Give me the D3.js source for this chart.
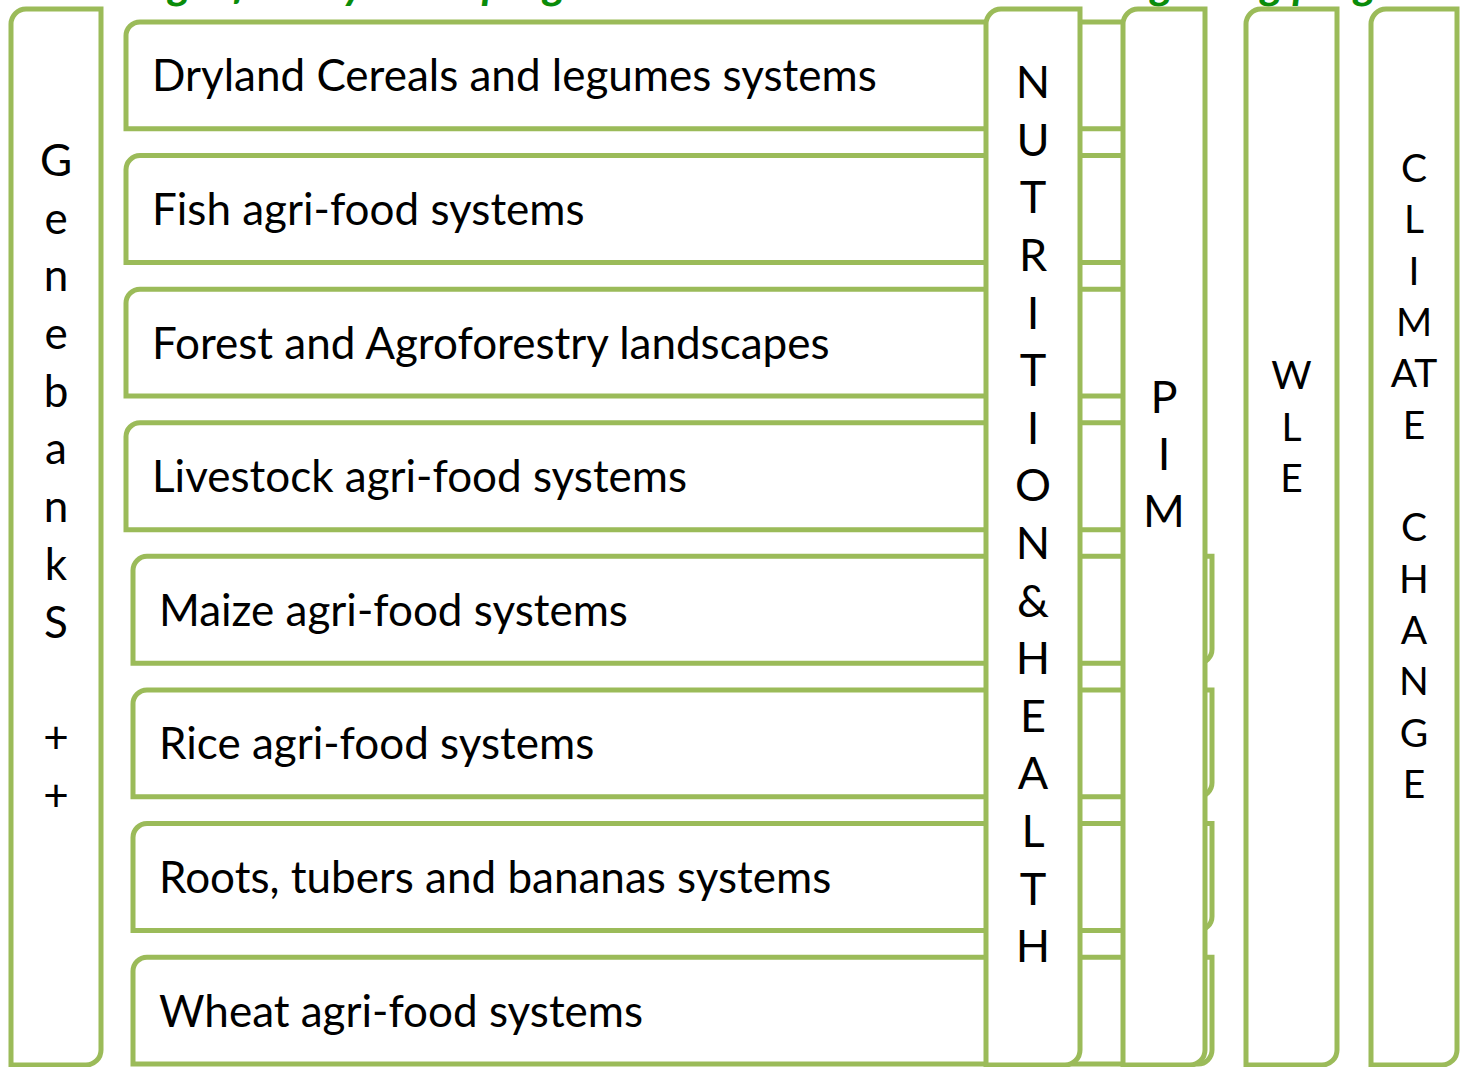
<!DOCTYPE html>
<html>
<head>
<meta charset="utf-8">
<script src="https://cdn.jsdelivr.net/npm/d3@7"></script>
<style>
  html, body { margin: 0; padding: 0; background: #ffffff; }
  svg { display: block; }
</style>
</head>
<body>
<script>
// ---- data ----
const rowLabels = [
  "Dryland Cereals and legumes systems",
  "Fish agri-food systems",
  "Forest and Agroforestry landscapes",
  "Livestock agri-food systems",
  "Maize agri-food systems",
  "Rice agri-food systems",
  "Roots, tubers and bananas systems",
  "Wheat agri-food systems"
];
const genebankLetters = ["G","e","n","e","b","a","n","k","S","","+","+"];
const nutritionLetters = ["N","U","T","R","I","T","I","O","N","&","H","E","A","L","T","H"];
const pimLetters = ["P","I","M"];
const wleLetters = ["W","L","E"];
const climateLetters = ["C","L","I","M","AT","E","","C","H","A","N","G","E"];
const titleParts = ["Agri-food systems programs", "Integrating programs"];

// ---- layout ----
const W = 1460, H = 1067;
const green = "#9BBB59";
const sw = 5;
const svg = d3.select("body").append("svg").attr("width", W).attr("height", H)
  .style("background", "#fff");

function diag(x, y, w, h, r) {
  return `M${x},${y + h} L${x},${y + r} A${r},${r} 0 0 1 ${x + r},${y} L${x + w},${y} ` +
         `L${x + w},${y + h - r} A${r},${r} 0 0 1 ${x + w - r},${y + h} Z`;
}

// title (cut off at top edge, as in the reference)
const titleG = svg.append("g").attr("font-family", "Lato, 'Open Sans', sans-serif")
  .attr("font-weight", 700).attr("font-style", "italic").attr("font-size", 44).attr("fill", "#0a8c0a");
titleG.append("text").attr("x", 140).attr("y", -1).text(titleParts[0]);
titleG.append("text").attr("x", 1078).attr("y", -1).text(titleParts[1]);

// rows
const yRow = d3.scaleBand().domain(d3.range(rowLabels.length)).range([22, 1064]).paddingInner(0.2).paddingOuter(0);
const rowG = svg.append("g");
rowLabels.forEach((lab, i) => {
  const x0 = i < 4 ? 126 : 133;
  const x1 = i < 4 ? 1195 : 1212;
  const y0 = yRow(i), h = yRow.bandwidth();
  rowG.append("path").attr("d", diag(x0, y0, x1 - x0, h, 14))
    .attr("fill", "#fff").attr("stroke", green).attr("stroke-width", sw);
  rowG.append("text").attr("x", x0 + 26).attr("y", y0 + h / 2 + 16)
    .attr("font-family", "Lato, 'Open Sans', sans-serif").attr("font-size", 44)
    .attr("fill", "#000").text(lab);
});

// vertical columns
const columns = [
  { letters: genebankLetters, x0: 11, x1: 101, first: 160, last: 795, fs: 44 },
  { letters: nutritionLetters, x0: 986, x1: 1080, first: 82, last: 946, fs: 45 },
  { letters: pimLetters, x0: 1123, x1: 1205, first: 397, last: 511, fs: 45 },
  { letters: wleLetters, x0: 1246, x1: 1337, first: 375, last: 478, fs: 39 },
  { letters: climateLetters, x0: 1371, x1: 1457, first: 168, last: 784, fs: 39 }
];
columns.forEach(c => {
  const g = svg.append("g");
  g.append("path").attr("d", diag(c.x0, 9, c.x1 - c.x0, 1056, 15))
    .attr("fill", "#fff").attr("stroke", green).attr("stroke-width", sw);
  const yl = d3.scalePoint().domain(d3.range(c.letters.length)).range([c.first, c.last]);
  const cx = (c.x0 + c.x1) / 2;
  g.selectAll("text").data(c.letters).join("text")
    .attr("x", cx).attr("y", (d, i) => yl(i) + c.fs * 0.36)
    .attr("text-anchor", "middle")
    .attr("font-family", "Lato, 'Open Sans', sans-serif").attr("font-size", c.fs)
    .attr("fill", "#000").text(d => d);
});
</script>
</body>
</html>
